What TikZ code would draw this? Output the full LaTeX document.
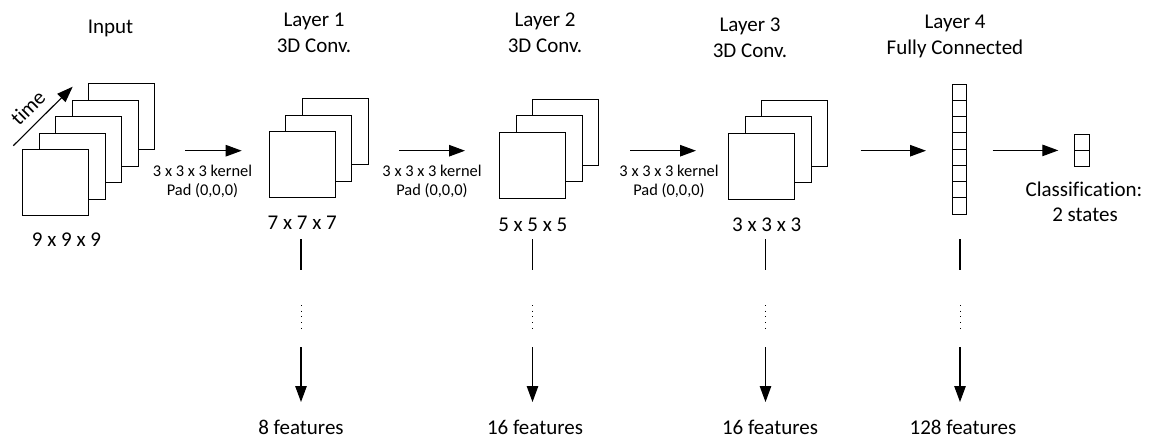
\documentclass[tikz,border=0pt]{standalone}
\usepackage{fontspec}
\setmainfont{Carlito}[Ligatures={NoCommon,NoContextual}]
\usetikzlibrary{arrows.meta}
\begin{document}
\begin{tikzpicture}[x=1pt,y=-1pt,
  sq/.style={draw,fill=white,minimum size=66pt,inner sep=0pt,line width=1pt},
  cell/.style={draw,fill=white,minimum width=14pt,minimum height=16.25pt,inner sep=0pt,line width=1pt},
  ccell/.style={draw,fill=white,minimum width=15pt,minimum height=16pt,inner sep=0pt,line width=1pt},
  big/.style={font=\fontsize{21}{25}\selectfont,inner sep=0pt,anchor=base},
  small/.style={font=\fontsize{16.4}{19}\selectfont,inner sep=0pt,anchor=base},
  arr/.style={line width=1.1pt,-{Triangle[length=16pt,width=11.5pt]}},
  ln/.style={line width=1.1pt},
  dots/.style={line width=0.9pt,dash pattern=on 0.9pt off 4.8pt}]
\useasboundingbox (0,0) rectangle (1151,440);

% ---------- Input ----------
\node[big] (tin) at (110.5,33.3) {Input};
\node[sq] (in5) at (121.5,116.5) {};
\node[sq] (in4) at (105,133) {};
\node[sq] (in3) at (88.5,149.5) {};
\node[sq] (in2) at (72,166) {};
\node[sq] (in1) at (55.5,182.5) {};
\node[big] (din) at (66.5,246.7) {9 x 9 x 9};
\coordinate (ta) at (13.3,145.7);
\coordinate (tb) at (72.7,86.7);
\draw[arr] (ta) -- (tb);
\node[font=\fontsize{21}{25}\selectfont,inner sep=0pt,rotate=45] (time) at (28,107.5) {time};

% ---------- arrow 1 ----------
\coordinate (a1s) at (185,150.7);
\coordinate (a1e) at (241.7,150.7);
\draw[arr] (a1s) -- (a1e);
\node[small] (k1) at (202.5,176) {3 x 3 x 3 kernel};
\node[small] (p1) at (202.5,195) {Pad (0,0,0)};

% ---------- Layer 1 ----------
\node[big] (t1a) at (314,26) {Layer 1};
\node[big] (t1b) at (314,52.8) {3D Conv.};
\node[sq] (l1c) at (335,131.7) {};
\node[sq] (l1b) at (318.5,148.2) {};
\node[sq] (l1a) at (302,164.7) {};
\node[big] (d1) at (302.3,229.3) {7 x 7 x 7};

% ---------- arrow 2 ----------
\coordinate (a2s) at (399.3,150.7);
\coordinate (a2e) at (465,150.7);
\draw[arr] (a2s) -- (a2e);
\node[small] (k2) at (432,176) {3 x 3 x 3 kernel};
\node[small] (p2) at (432,195) {Pad (0,0,0)};

% ---------- Layer 2 ----------
\node[big] (t2a) at (545,26.5) {Layer 2};
\node[big] (t2b) at (545,52.5) {3D Conv.};
\node[sq] (l2c) at (565.5,132) {};
\node[sq] (l2b) at (549,148.5) {};
\node[sq] (l2a) at (532.5,165) {};
\node[big] (d2) at (532.8,231.7) {5 x 5 x 5};

% ---------- arrow 3 ----------
\coordinate (a3s) at (630,150.7);
\coordinate (a3e) at (696,150.7);
\draw[arr] (a3s) -- (a3e);
\node[small] (k3) at (669,176) {3 x 3 x 3 kernel};
\node[small] (p3) at (669,195) {Pad (0,0,0)};

% ---------- Layer 3 ----------
\node[big] (t3a) at (750,31) {Layer 3};
\node[big] (t3b) at (750,57.5) {3D Conv.};
\node[sq] (l3c) at (794.5,133.3) {};
\node[sq] (l3b) at (778,149.8) {};
\node[sq] (l3a) at (761.5,166.3) {};
\node[big] (d3) at (766.7,231.7) {3 x 3 x 3};

% ---------- arrow 4 ----------
\coordinate (a4s) at (860.7,150.7);
\coordinate (a4e) at (926,150.7);
\draw[arr] (a4s) -- (a4e);

% ---------- Layer 4 ----------
\node[big] (t4a) at (955,28) {Layer 4};
\node[big] (t4b) at (955,54.5) {Fully Connected};
\foreach \i in {1,...,8}{
  \node[cell] (fc\i) at (959,{84+8.125+16.25*(\i-1)}) {};
}

% ---------- arrow 5 ----------
\coordinate (a5s) at (992.7,150.4);
\coordinate (a5e) at (1058.3,150.4);
\draw[arr] (a5s) -- (a5e);

% ---------- Classification ----------
\node[ccell] (cl1) at (1082,142) {};
\node[ccell] (cl2) at (1082,158) {};
\node[big] (cls) at (1084,196) {Classification:};
\node[big] (cls2) at (1085,221) {2 states};

% ---------- vertical feature connectors ----------
\foreach \n/\x in {1/301,2/532.5,3/765.5,4/960}{
  \coordinate (v\n a) at (\x,239);
  \coordinate (v\n b) at (\x,270);
  \coordinate (v\n c) at (\x,305);
  \coordinate (v\n d) at (\x,330);
  \coordinate (v\n e) at (\x,347);
  \coordinate (v\n f) at (\x,402);
  \draw[ln] (v\n a) -- (v\n b);
  \draw[dots] (v\n c) -- (v\n d);
  \draw[arr] (v\n e) -- (v\n f);
}
\node[big] (f1) at (301,434.5) {8 features};
\node[big] (f2) at (535,434.5) {16 features};
\node[big] (f3) at (770,434.5) {16 features};
\node[big] (f4) at (963,434.5) {128 features};
\end{tikzpicture}
\end{document}
